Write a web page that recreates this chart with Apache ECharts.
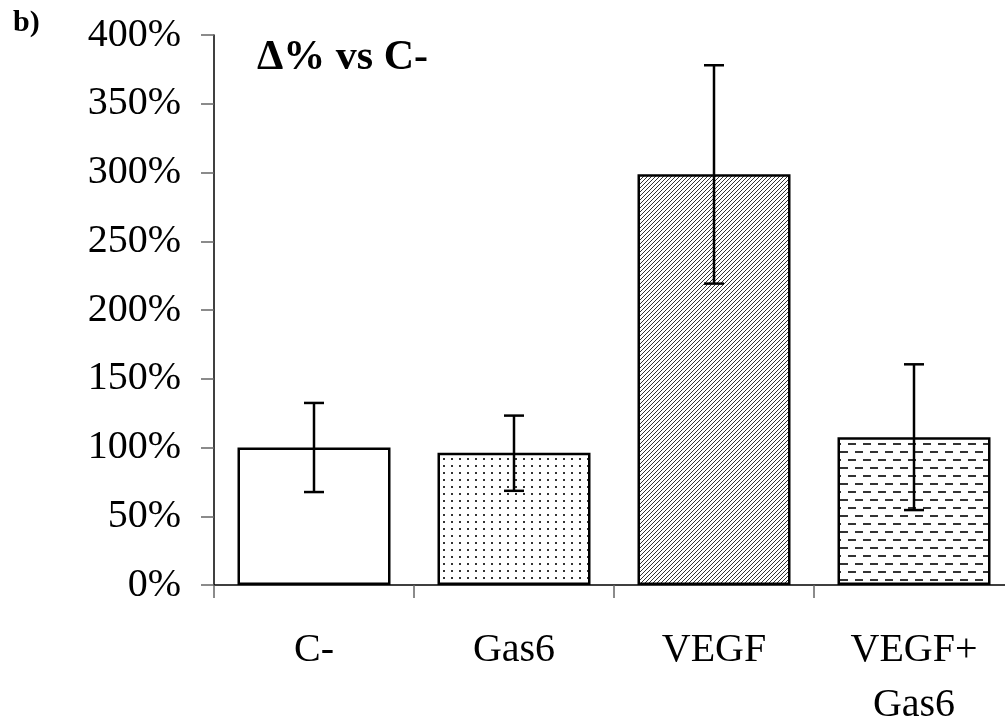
<!DOCTYPE html>
<html lang="en">
<head>
<meta charset="UTF-8">
<title>b) Δ% vs C-</title>
<script src="https://cdn.jsdelivr.net/npm/echarts@6/dist/echarts.min.js"></script>
<style>
  html, body { margin: 0; padding: 0; background: #fff; }
  #chart { width: 1005px; height: 722px; }
</style>
</head>
<body>
<div id="chart"></div>
<script>
// data (percent vs C-)
var categories = ['C-', 'Gas6', 'VEGF', 'VEGF+\nGas6'];
var meanValues = [100, 96.2, 298.7, 107.4];
var errLow = [67.6, 68.5, 219.2, 54.5];
var errHigh = [132.4, 123.2, 378, 160.5];
var yTicks = { min: 0, max: 400, interval: 50 };

// fill patterns like the old excel ones
function makeTile(w, h, draw) {
  var c = document.createElement('canvas');
  c.width = w; c.height = h;
  var ctx = c.getContext('2d');
  ctx.fillStyle = '#fff';
  ctx.fillRect(0, 0, w, h);
  draw(ctx);
  return c;
}
var dots = makeTile(8, 7, function (ctx) {
  ctx.fillStyle = '#333';
  ctx.fillRect(3, 3, 2, 2);
});
var hatch = makeTile(4, 4, function (ctx) {
  ctx.strokeStyle = '#333';
  ctx.lineWidth = 1;
  ctx.beginPath();
  ctx.moveTo(-1, 5); ctx.lineTo(5, -1);
  ctx.moveTo(-1, 1); ctx.lineTo(1, -1);
  ctx.moveTo(3, 5); ctx.lineTo(5, 3);
  ctx.stroke();
});
var dashes = makeTile(15, 16, function (ctx) {
  ctx.fillStyle = '#333';
  ctx.fillRect(0, 3, 8, 2);
  ctx.fillRect(8, 11, 7, 2);
  ctx.fillRect(0, 11, 1, 2);
});
var fills = ['#fff', { image: dots, repeat: 'repeat' }, { image: hatch, repeat: 'repeat' }, { image: dashes, repeat: 'repeat' }];

var serif = '"Liberation Serif", "Times New Roman", serif';

var chart = echarts.init(document.getElementById('chart'));
var option = {
  animation: false,
  backgroundColor: '#fff',
  grid: { left: 214, top: 35, width: 800, height: 550, outerBoundsMode: 'none', containLabel: false },
  graphic: [
    { type: 'text', left: 13, top: 8, style: { text: 'b)', font: 'bold 30px ' + serif, fill: '#000' } },
    { type: 'text', left: 257, top: 37, style: { text: 'Δ% vs C-', font: 'bold 42px ' + serif, fill: '#000' } }
  ],
  xAxis: {
    type: 'category',
    data: categories,
    boundaryGap: true,
    axisLine: { lineStyle: { color: '#000', width: 1.5 } },
    axisTick: { show: true, length: 13, lineStyle: { color: '#666', width: 1.5 } },
    axisLabel: { color: '#000', fontFamily: serif, fontSize: 40, lineHeight: 55, margin: 38, interval: 0 }
  },
  yAxis: {
    type: 'value',
    min: yTicks.min,
    max: yTicks.max,
    interval: yTicks.interval,
    splitLine: { show: false },
    axisLine: { show: true, lineStyle: { color: '#000', width: 1.5 } },
    axisTick: { show: true, length: 13, lineStyle: { color: '#666', width: 1.5 } },
    axisLabel: { color: '#000', fontFamily: serif, fontSize: 40, margin: 33, formatter: '{value}%' }
  },
  series: [
    {
      type: 'bar',
      barWidth: 153,
      data: meanValues.map(function (v, i) {
        return { value: v, itemStyle: { color: fills[i] } };
      }),
      itemStyle: { borderColor: '#000', borderWidth: 2.5 }
    },
    {
      type: 'custom',
      data: meanValues.map(function (v, i) { return [i, errLow[i], errHigh[i]]; }),
      renderItem: function (params, api) {
        var lo = api.coord([api.value(0), api.value(1)]);
        var hi = api.coord([api.value(0), api.value(2)]);
        var half = 10;
        var st = { stroke: '#000', lineWidth: 2.5 };
        return {
          type: 'group',
          children: [
            { type: 'line', shape: { x1: lo[0], y1: lo[1], x2: hi[0], y2: hi[1] }, style: st },
            { type: 'line', shape: { x1: hi[0] - half, y1: hi[1], x2: hi[0] + half, y2: hi[1] }, style: st },
            { type: 'line', shape: { x1: lo[0] - half, y1: lo[1], x2: lo[0] + half, y2: lo[1] }, style: st }
          ]
        };
      },
      z: 5
    }
  ]
};
chart.setOption(option);
</script>
</body>
</html>
